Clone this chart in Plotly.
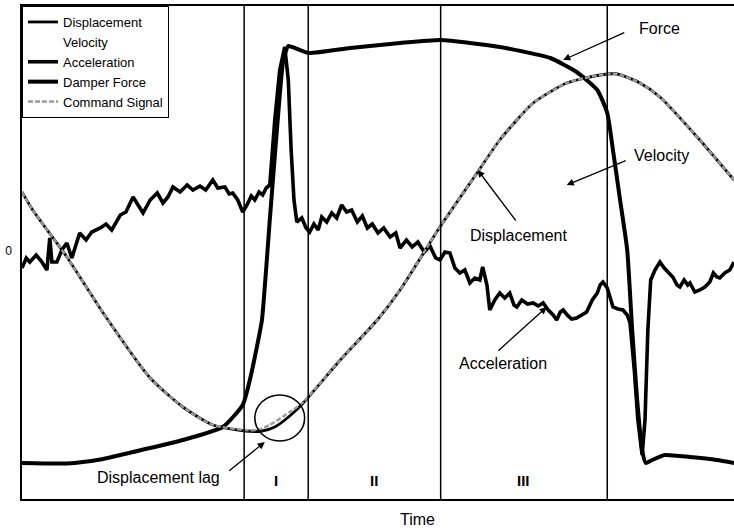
import plotly.graph_objects as go

# ---- data (time in % of cycle, signals in normalized units) ----
force_t = [0, 6.3, 11.0, 15.6, 22.6, 28.2, 31.0, 32.0, 32.9, 33.7, 34.8, 35.8, 36.7, 37.4, 38.3,
           40.2, 46.1, 53.1, 58.8, 67.1, 74.2, 77.9, 80.8, 82.2, 83.0, 84.0, 85.0, 85.7, 86.4,
           87.1, 87.6, 88.5, 90.3, 93.8, 97.6, 100]
force_y = [-84.8, -85.0, -83.4, -80.4, -75.6, -70.4, -61.6, -51.6, -39.6, -27.6, 12.4, 48.4,
           76.4, 82.0, 81.2, 79.2, 81.2, 83.2, 84.4, 81.6, 77.2, 71.6, 64.4, 55.2, 40.4, 20.4,
           0.4, -31.6, -59.6, -79.6, -84.8, -83.6, -81.6, -82.4, -83.6, -84.8]

cmd_t = [0, 1.5, 6.3, 11.4, 18.0, 22.6, 26.8, 31.3, 33.0, 34.8, 37.6, 39.5, 44.7, 49.9, 53.1,
         58.7, 64.0, 67.1, 71.8, 76.5, 81.2, 83.6, 86.8, 89.6, 95.2, 100]
cmd_y = [23.6, 16.4, -2.4, -24.8, -50.8, -62.4, -69.6, -71.6, -71.6, -69.6, -64.4, -60.4, -43.6,
         -27.6, -15.6, 9.6, 31.6, 44.4, 59.2, 67.2, 70.4, 70.8, 67.2, 61.6, 44.4, 28.4]

disp_t = [0, 1.5, 6.3, 11.4, 18.0, 22.6, 26.8, 31.3, 33.7, 35.5, 37.6, 39.5, 44.7, 49.9, 53.1,
          58.7, 64.0, 67.1, 71.8, 76.5, 81.2, 83.6, 86.8, 89.6, 95.2, 100]
disp_y = [23.6, 16.4, -2.4, -24.8, -50.8, -62.4, -69.6, -72.0, -72.0, -70.4, -66.0, -60.8, -43.6,
          -27.6, -15.6, 9.6, 31.6, 44.4, 59.2, 67.2, 70.4, 70.8, 67.2, 61.6, 44.4, 28.4]

acc_t = [0, 0.6, 1.1, 2.0, 2.8, 3.5, 3.9, 4.2, 4.9, 5.6, 6.3, 7.0, 8.1, 9.0, 9.8, 11.0, 11.8,
         12.6, 13.8, 14.6, 15.6, 16.3, 17.0, 18.0, 19.0, 19.8, 20.5, 21.2, 22.2, 23.2, 24.0,
         25.0, 25.8, 26.8, 27.5, 28.5, 29.1, 29.6, 30.3, 31.0, 31.6, 32.2, 32.7, 33.3, 33.8,
         34.3, 34.8, 35.5, 36.2, 36.9, 37.4, 37.8, 38.2, 38.6, 39.3, 39.9, 40.4, 41.0, 41.6,
         42.1, 42.8, 43.5, 44.2, 44.9, 45.6, 46.3, 47.1, 47.8, 48.5, 49.2, 50.0, 50.8, 51.7,
         52.5, 53.1, 54.0, 54.8, 55.6, 56.5, 57.3, 58.1, 58.7, 59.4, 60.1, 60.8, 61.5, 62.2,
         62.9, 63.6, 64.3, 64.7, 65.3, 65.7, 66.4, 67.1, 67.8, 68.5, 69.1, 69.5, 70.2, 71.0,
         71.8, 72.5, 73.2, 73.9, 74.6, 75.1, 75.6, 76.0, 76.7, 77.2, 77.9, 78.7, 79.3, 80.1,
         80.8, 81.2, 81.6, 82.2, 82.6, 83.0, 83.7, 84.4, 85.0, 85.4, 86.0, 86.5, 87.1, 87.5,
         87.9, 88.3, 88.9, 89.6, 90.2, 90.7, 91.4, 92.0, 92.4, 93.0, 93.5, 93.8, 94.5, 95.2,
         95.9, 96.6, 97.1, 97.6, 98.0, 98.7, 99.4, 100]
acc_y = [-6.8, -2.8, -4.4, -1.6, -4.4, -7.6, 5.2, -4.4, -4.4, 0.4, 3.2, -2.8, 7.2, 4.4, 7.6,
         9.2, 10.8, 8.4, 14.4, 15.6, 21.6, 18.4, 15.2, 20.4, 23.2, 19.2, 21.6, 25.6, 23.6, 26.4,
         24.4, 26.0, 24.4, 28.4, 25.2, 25.6, 22.8, 23.2, 20.4, 15.6, 18.4, 22.0, 20.4, 23.6,
         22.4, 25.2, 26.4, 52.4, 72.4, 81.6, 68.4, 40.4, 20.4, 11.6, 13.2, 9.2, 7.6, 10.8, 8.4,
         13.6, 11.6, 15.2, 13.2, 18.4, 15.6, 16.4, 11.6, 14.0, 9.2, 10.8, 7.2, 9.2, 5.6, 7.2,
         1.2, 4.4, 1.6, 3.6, -0.4, 2.0, -2.8, -3.6, -0.4, -0.8, -6.8, -8.8, -7.6, -12.8, -10.8,
         -11.6, -6.4, -13.6, -23.6, -19.6, -16.8, -18.8, -16.8, -21.6, -22.4, -19.6, -21.2,
         -20.8, -22.0, -20.8, -23.6, -25.6, -27.6, -24.4, -23.6, -26.0, -27.2, -26.8, -25.2,
         -24.4, -19.6, -16.8, -13.6, -12.4, -14.8, -18.4, -22.4, -23.2, -23.6, -25.6, -28.8,
         -47.6, -67.6, -81.6, -67.6, -31.6, -11.6, -7.6, -4.4, -6.8, -8.4, -10.4, -13.6, -14.4,
         -11.6, -13.6, -12.8, -16.4, -15.6, -14.4, -12.4, -8.8, -10.4, -10.8, -8.8, -7.6, -4.4]

# velocity trace is not legible in the source figure (only its legend entry is)
vel_t = [None]
vel_y = [None]

phase_bounds = [31.2, 40.2, 58.8, 82.2]
phase_labels = ["I", "II", "III"]

FONT = "Liberation Sans, Arial, sans-serif"

fig = go.Figure()
fig.add_trace(go.Scatter(x=disp_t, y=disp_y, name="Displacement", mode="lines",
                         line=dict(color="black", width=2.8, shape="spline", smoothing=0.6)))
fig.add_trace(go.Scatter(x=vel_t, y=vel_y, name="Velocity", mode="lines",
                         line=dict(color="white", width=3)))
fig.add_trace(go.Scatter(x=acc_t, y=acc_y, name="Acceleration", mode="lines",
                         line=dict(color="black", width=3.6)))
fig.add_trace(go.Scatter(x=force_t, y=force_y, name="Damper Force", mode="lines",
                         line=dict(color="black", width=4, shape="spline", smoothing=0.5)))
fig.add_trace(go.Scatter(x=cmd_t, y=cmd_y, name="Command Signal", mode="lines",
                         line=dict(color="#9a9a9a", width=2.4, dash="5px,2px",
                                   shape="spline", smoothing=0.6)))

shapes = []
for b in phase_bounds:
    shapes.append(dict(type="line", xref="x", yref="paper", x0=b, x1=b, y0=0, y1=1,
                       line=dict(color="black", width=1.5)))
shapes.append(dict(type="circle", xref="x", yref="y", x0=32.7, x1=39.7, y0=-76.0, y1=-57.6,
                   line=dict(color="black", width=1.6)))

annotations = []
for i, lab in enumerate(phase_labels):
    annotations.append(dict(x=(phase_bounds[i] + phase_bounds[i + 1]) / 2, y=-91.6,
                            xref="x", yref="y", text="<b>" + lab + "</b>", showarrow=False,
                            font=dict(family=FONT, size=15, color="black")))

arrows = [  # head x, head y, tail x, tail y
    (76.0, 76.4, 84.8, 87.6),
    (76.5, 26.4, 85.0, 36.4),
    (64.0, 32.4, 69.5, 11.6),
    (73.7, -22.4, 66.7, -40.4),
    (34.1, -76.4, 28.9, -88.4),
]
for hx, hy, tx, ty in arrows:
    annotations.append(dict(x=hx, y=hy, ax=tx, ay=ty, xref="x", yref="y", axref="x", ayref="y",
                            text="", showarrow=True, arrowhead=2, arrowsize=1.1,
                            arrowwidth=1.3, arrowcolor="black"))

labels = [  # text, x, y, anchor
    ("Force", 86.4, 89.2, "left"),
    ("Velocity", 85.7, 38.4, "left"),
    ("Displacement", 69.8, 6.4, "center"),
    ("Acceleration", 67.6, -44.8, "center"),
    ("Displacement lag", 28.1, -90.4, "right"),
]
for txt, x, y, anc in labels:
    annotations.append(dict(x=x, y=y, xref="x", yref="y", text=txt, showarrow=False,
                            xanchor=anc, font=dict(family=FONT, size=16, color="black")))

annotations.append(dict(x=0.555, y=0, xref="paper", yref="paper", yanchor="middle",
                        yshift=-20, text="Time", showarrow=False,
                        font=dict(family=FONT, size=16, color="black")))

fig.update_layout(
    width=734, height=531,
    margin=dict(l=22, r=0, t=6, b=32, autoexpand=False),
    paper_bgcolor="white", plot_bgcolor="white",
    showlegend=True,
    legend=dict(x=0, y=1, xanchor="left", yanchor="top", bgcolor="white",
                bordercolor="black", borderwidth=1,
                font=dict(family=FONT, size=13, color="black"),
                tracegroupgap=0, itemwidth=30),
    shapes=shapes, annotations=annotations,
    xaxis=dict(range=[0, 100], showgrid=False, zeroline=False, showticklabels=False,
               ticks="", showline=True, linecolor="black", linewidth=1.5, mirror=True),
    yaxis=dict(range=[-99.2, 98], showgrid=False, zeroline=False, tickvals=[0],
               ticktext=["0"], ticks="", showline=True, linecolor="black", linewidth=1.5,
               automargin=False, ticklabelstandoff=6,
               tickfont=dict(family=FONT, size=12, color="black")),
)

fig.write_html("out.html", config={"displayModeBar": False},
               post_script="document.body.style.margin='0';")
